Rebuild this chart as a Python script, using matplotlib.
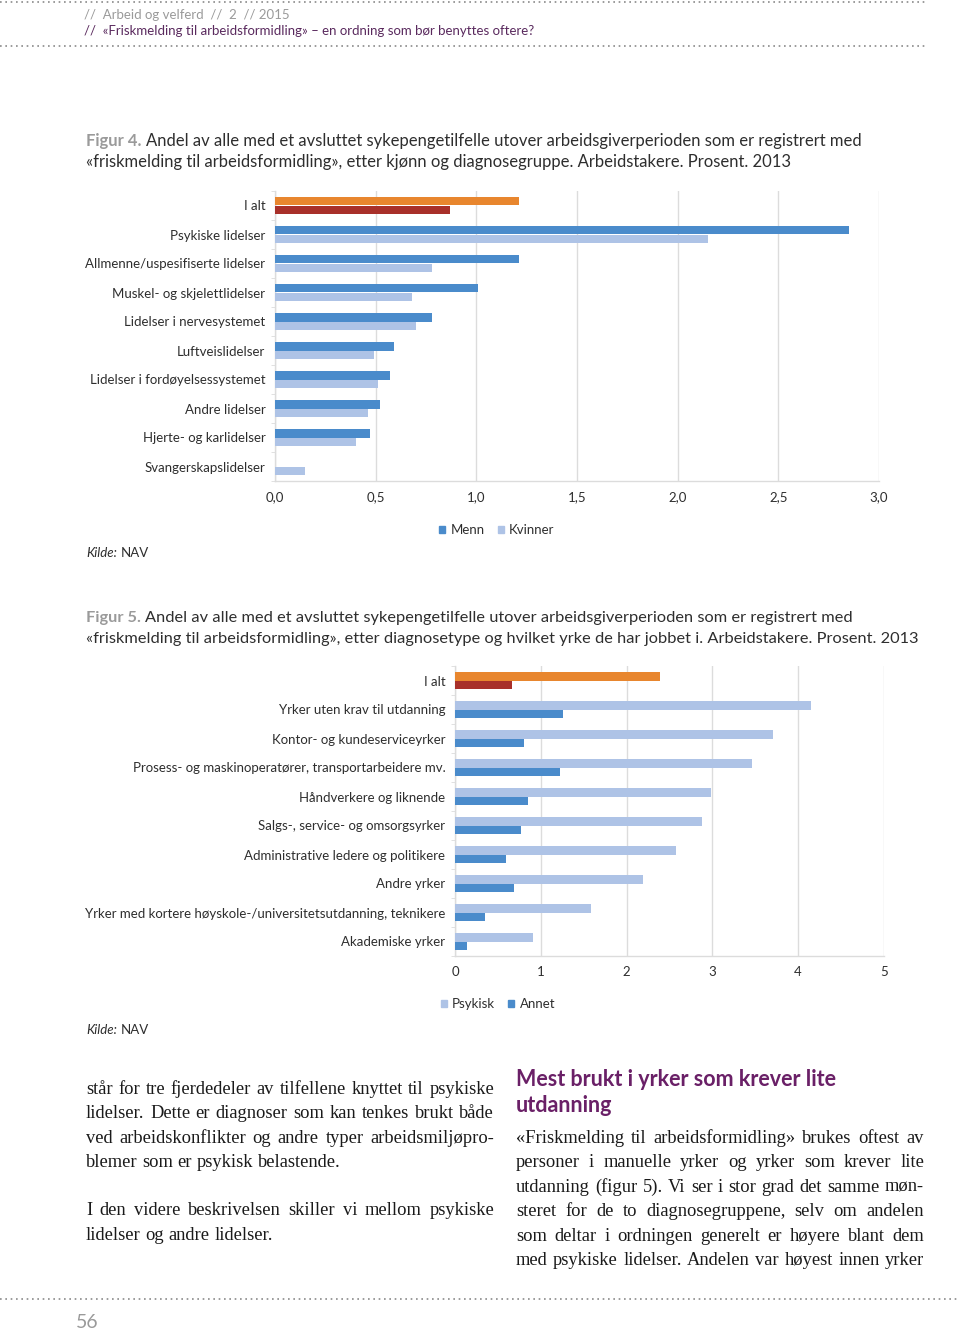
import numpy as np
import matplotlib
matplotlib.use('Agg')
import matplotlib.pyplot as plt
from matplotlib.patches import Patch
from matplotlib.lines import Line2D

W, H = 960, 1334

# Figur 4 data
diag_labels = ['I alt', 'Psykiske lidelser', 'Allmenne/uspesifiserte lidelser',
               'Muskel- og skjelettlidelser', 'Lidelser i nervesystemet', 'Luftveislidelser',
               'Lidelser i fordøyelsessystemet', 'Andre lidelser', 'Hjerte- og karlidelser',
               'Svangerskapslidelser']
menn = [1.21, 2.85, 1.21, 1.01, 0.78, 0.59, 0.57, 0.52, 0.47, 0.0]
kvinner = [0.87, 2.15, 0.78, 0.68, 0.70, 0.49, 0.51, 0.46, 0.40, 0.15]
fig4_ticks = ['0,0', '0,5', '1,0', '1,5', '2,0', '2,5', '3,0']

# Figur 5 data
yrke_labels = ['I alt', 'Yrker uten krav til utdanning', 'Kontor- og kundeserviceyrker',
               'Prosess- og maskinoperatører, transportarbeidere mv.', 'Håndverkere og liknende',
               'Salgs-, service- og omsorgsyrker', 'Administrative ledere og politikere',
               'Andre yrker', 'Yrker med kortere høyskole-/universitetsutdanning, teknikere',
               'Akademiske yrker']
psykisk = [2.39, 4.15, 3.71, 3.46, 2.98, 2.88, 2.57, 2.19, 1.58, 0.91]
annet = [0.67, 1.26, 0.81, 1.22, 0.85, 0.77, 0.59, 0.69, 0.35, 0.14]
fig5_ticks = ['0', '1', '2', '3', '4', '5']

DARK = '#4a8bcb'
LIGHT = '#aec3e6'
ORANGE = '#e8862e'
RED = '#a8302a'
GRID = '#dcdcdc'
TXT = '#2e2e2e'
GREY = '#9a9a9a'
PURPLE = '#6a2067'

SANS = ['Lato', 'DejaVu Sans']
SERIF = ['Liberation Serif', 'DejaVu Serif']

fig = plt.figure(figsize=(W / 100, H / 100), dpi=100)
renderer = fig.canvas.get_renderer()


def fx(x):
    return x / W


def fy(y):
    return 1 - y / H


def px_axes(x0, y0, x1, y1):
    return fig.add_axes([fx(x0), fy(y1), (x1 - x0) / W, (y1 - y0) / H])


def draw_chart(ax, labels, s1, s2, c1, c2, xmax, step, ticklabels):
    n = len(labels)
    y = np.arange(n)
    h = 0.29
    ax.barh(y - h / 2, s1, height=h, color=[ORANGE] + [c1] * (n - 1), zorder=3)
    ax.barh(y + h / 2, s2, height=h, color=[RED] + [c2] * (n - 1), zorder=3)
    ax.set_ylim(n - 0.5, -0.5)
    ax.set_xlim(0, xmax)
    ax.set_xticks(np.arange(0, xmax + step / 2, step))
    ax.set_xticklabels(ticklabels, family=SANS, fontsize=9.5, color=TXT)
    ax.set_yticks(y)
    ax.set_yticklabels(labels, family=SANS, fontsize=9.5, color=TXT)
    ax.set_yticks(np.arange(n + 1) - 0.5, minor=True)
    ax.tick_params(axis='y', which='major', length=0, pad=7)
    ax.tick_params(axis='y', which='minor', length=3, color=GRID)
    ax.tick_params(axis='x', length=0, pad=7)
    ax.grid(axis='x', color=GRID, lw=1)
    ax.set_axisbelow(True)
    for s in ['top', 'right']:
        ax.spines[s].set_visible(False)
    for s in ['left', 'bottom']:
        ax.spines[s].set_color(GRID)
        ax.spines[s].set_linewidth(1)


def legend(x, y, names, colors):
    handles = [Patch(color=c) for c in colors]
    fig.legend(handles, names, loc='center', bbox_to_anchor=(fx(x), fy(y)), ncol=2,
               frameon=False, handlelength=0.45, handleheight=0.45, handletextpad=0.4,
               columnspacing=1.0, prop={'family': SANS, 'size': 9.5}, labelcolor=TXT)


def kilde(y):
    t = fig.text(fx(86), fy(y), 'Kilde:', family=SANS, style='italic', fontsize=9.5,
                 color=TXT, va='center')
    w = t.get_window_extent(renderer).width
    fig.text(fx(86 + w + 4), fy(y), 'NAV', family=SANS, fontsize=9.5, color=TXT, va='center')


def caption(num, lines, y0, size=12):
    t = fig.text(fx(86), fy(y0), num, family=SANS, fontsize=size, color=GREY,
                 weight='bold', va='center')
    w = t.get_window_extent(renderer).width
    fig.text(fx(86 + w + 4), fy(y0), lines[0], family=SANS, fontsize=size, color=TXT, va='center')
    fig.text(fx(86), fy(y0 + 21), lines[1], family=SANS, fontsize=size, color=TXT, va='center')


def justify(line, x0, x1, y, last=False, size=13.3):
    words = line.split()
    texts = [fig.text(0, 0, w, family=SERIF, fontsize=size, color='#1a1a1a', va='baseline')
             for w in words]
    widths = [t.get_window_extent(renderer).width for t in texts]
    if last or len(words) == 1:
        gap = size * 0.25 / 0.72
    else:
        gap = max((x1 - x0 - sum(widths)) / (len(words) - 1), 2)
    x = x0
    for t, w in zip(texts, widths):
        t.set_position((fx(x), fy(y)))
        x += w + gap


# header
for yy, xe in [(2, 925), (46, 925), (1299, 960)]:
    fig.add_artist(Line2D([0, fx(xe)], [fy(yy), fy(yy)], color='#8a8a8a', lw=1.2,
                          linestyle=(0, (1, 2.2))))
fig.text(fx(84), fy(15), '//  Arbeid og velferd  //  2  // 2015', family=SANS, fontsize=9.5,
         color=GREY, va='center')
fig.text(fx(84), fy(31), '//  «Friskmelding til arbeidsformidling» – en ordning som bør benyttes oftere?',
         family=SANS, fontsize=9.5, color='#5a2a5e', va='center')

# Figur 4
caption('Figur 4.', ['Andel av alle med et avsluttet sykepengetilfelle utover arbeidsgiverperioden som er registrert med',
                     '«friskmelding til arbeidsformidling», etter kjønn og diagnosegruppe. Arbeidstakere. Prosent. 2013'], 141)
ax1 = px_axes(275, 191, 879, 481)
draw_chart(ax1, diag_labels, menn, kvinner, DARK, LIGHT, 3.0, 0.5, fig4_ticks)
legend(497, 530, ['Menn', 'Kvinner'], [DARK, LIGHT])
kilde(553)

# Figur 5
caption('Figur 5.', ['Andel av alle med et avsluttet sykepengetilfelle utover arbeidsgiverperioden som er registrert med',
                     '«friskmelding til arbeidsformidling», etter diagnosetype og hvilket yrke de har jobbet i. Arbeidstakere. Prosent. 2013'], 618,
        size=11.8)
ax2 = px_axes(455, 666, 884, 956)
draw_chart(ax2, yrke_labels, psykisk, annet, LIGHT, DARK, 5, 1, fig5_ticks)
legend(498, 1004, ['Psykisk', 'Annet'], [LIGHT, DARK])
kilde(1030)

# body text, left column
left = [('står for tre fjerdedeler av tilfellene knyttet til psykiske', 1094, False),
        ('lidelser. Dette er diagnoser som kan tenkes brukt både', 1118, False),
        ('ved arbeidskonflikter og andre typer arbeidsmiljøpro-', 1143, False),
        ('blemer som er psykisk belastende.', 1167, True),
        ('I den videre beskrivelsen skiller vi mellom psykiske', 1215, False),
        ('lidelser og andre lidelser.', 1240, True)]
for line, y, last in left:
    justify(line, 86, 494, y, last)

# right column
fig.text(fx(516), fy(1079), 'Mest brukt i yrker som krever lite', family=SANS, fontsize=15.5,
         weight='bold', color=PURPLE, va='center')
fig.text(fx(516), fy(1106), 'utdanning', family=SANS, fontsize=15.5, weight='bold',
         color=PURPLE, va='center')
right = ['«Friskmelding til arbeidsformidling» brukes oftest av',
         'personer i manuelle yrker og yrker som krever lite',
         'utdanning (figur 5). Vi ser i stor grad det samme møn-',
         'steret for de to diagnosegruppene, selv om andelen',
         'som deltar i ordningen generelt er høyere blant dem',
         'med psykiske lidelser. Andelen var høyest innen yrker']
for i, line in enumerate(right):
    justify(line, 516, 924, 1143 + i * 24.4)

fig.text(fx(76), fy(1322), '56', family=SANS, fontsize=14, color=GREY, va='center')

fig.savefig('out.png', dpi=100)
